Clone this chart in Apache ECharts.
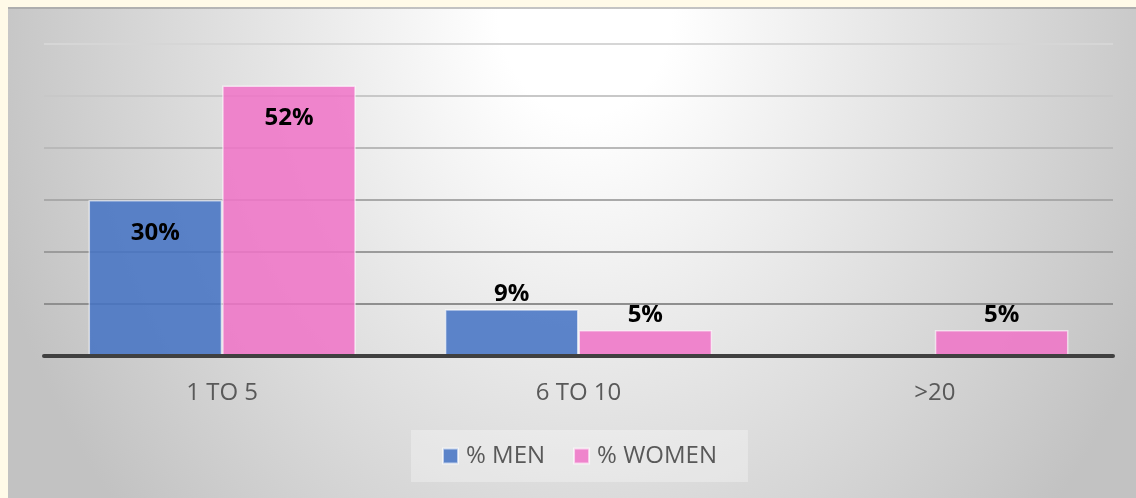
<!DOCTYPE html>
<html>
<head>
<meta charset="utf-8">
<script src="https://cdn.jsdelivr.net/npm/echarts@6/dist/echarts.min.js"></script>
<style>
  html, body { margin: 0; padding: 0; width: 1136px; height: 498px; overflow: hidden; background: #FFFAE8; }
  #bg {
    position: absolute; left: 8px; top: 7px; width: 1128px; height: 491px;
    box-sizing: border-box;
    border-top: 2px solid rgba(0,0,0,0.10);
    background: radial-gradient(ellipse 620px 760px at 577px 0px, #ffffff 0%, #ffffff 14%, #c2c2c2 100%);
  }
  #chart { position: absolute; left: 0; top: 0; width: 1136px; height: 498px; }
</style>
</head>
<body>
<div id="bg"></div>
<div id="chart"></div>
<script>
// Years of experience buckets and the share of men / women in each
const categories = ['1 TO 5', '6 TO 10', '>20'];
const menPct = [30, 9, null];
const womenPct = [52, 5, 5];
const seriesNames = ['% MEN', '% WOMEN'];

const FONT = '"Open Sans", "Noto Sans", sans-serif';
const MEN_COLOR = 'rgba(68,114,196,0.86)';
const WOMEN_COLOR = 'rgba(240,115,199,0.86)';

// Tall bars carry their value inside the top end, short ones just above it
function withLabels(values) {
  return values.map(function (v) {
    if (v === null) return null;
    const inside = v >= 20;
    return {
      value: v,
      label: { position: inside ? 'insideTop' : 'top', distance: inside ? 21 : 3 }
    };
  });
}

const barLabel = {
  show: true,
  formatter: '{c}%',
  color: '#000',
  fontFamily: FONT,
  fontWeight: 'bold',
  fontSize: 24
};

const chart = echarts.init(document.getElementById('chart'), null, { renderer: 'canvas' });
chart.setOption({
  backgroundColor: 'transparent',
  animation: false,
  grid: { left: 44, right: 23, top: 44, bottom: 142 },
  legend: {
    data: seriesNames,
    left: 411,
    top: 430,
    padding: [14, 31],
    backgroundColor: 'rgba(255,255,255,0.3)',
    itemWidth: 15,
    itemHeight: 15,
    itemGap: 28,
    selectedMode: false,
    icon: 'rect',
    textStyle: { color: '#595959', fontFamily: FONT, fontSize: 24, padding: [0, 0, 0, 3] }
  },
  xAxis: {
    type: 'category',
    data: categories,
    z: 5,
    axisLine: { lineStyle: { color: '#404040', width: 4 } },
    axisTick: { show: false },
    axisLabel: { color: '#595959', fontFamily: FONT, fontSize: 24, margin: 25 }
  },
  yAxis: {
    type: 'value',
    min: 0,
    max: 60,
    interval: 10,
    axisLine: { show: false },
    axisTick: { show: false },
    axisLabel: { show: false },
    splitLine: {
      lineStyle: {
        width: 2,
        color: ['#404040', '#8f8f8f', '#9b9b9b', '#a9a9a9', '#b9b9b9', '#c8c8c8', '#d6d6d6']
      }
    }
  },
  series: [
    {
      name: seriesNames[0],
      type: 'bar',
      data: withLabels(menPct),
      barGap: '0%',
      barCategoryGap: '25%',
      itemStyle: { color: MEN_COLOR, borderColor: 'rgba(255,255,255,0.6)', borderWidth: 1.5 },
      label: barLabel
    },
    {
      name: seriesNames[1],
      type: 'bar',
      data: withLabels(womenPct),
      barGap: '0%',
      barCategoryGap: '25%',
      itemStyle: { color: WOMEN_COLOR, borderColor: 'rgba(255,255,255,0.6)', borderWidth: 1.5 },
      label: barLabel
    }
  ]
});
</script>
</body>
</html>
